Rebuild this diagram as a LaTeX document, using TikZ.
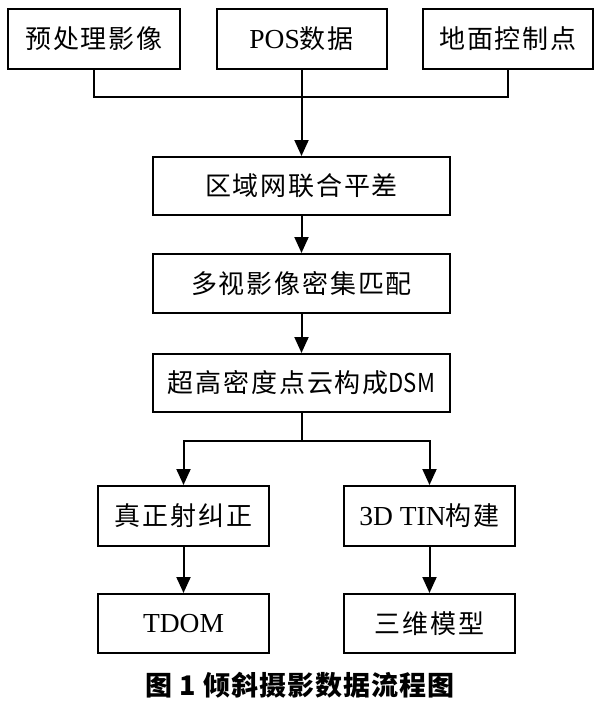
\documentclass[tikz,border=0pt]{standalone}
\usepackage{fontspec}
\setmainfont{Liberation Serif}
\newfontfamily\cjk{Noto Sans CJK SC}[LetterSpace=7]
\newfontfamily\cjkplain{Noto Sans CJK SC}
\newfontfamily\cjkcap{Noto Sans CJK SC}[LetterSpace=4]
\usetikzlibrary{arrows.meta}
\begin{document}
\begin{tikzpicture}[x=1pt,y=-1pt,
  box/.style={draw, line width=2pt, inner sep=0pt, minimum height=60pt, font=\fontsize{26}{29}\selectfont},
  lat/.style={font=\fontsize{27.5}{30}\selectfont},
  link/.style={line width=2pt},
  arr/.style={line width=2pt, -{Triangle[width=14pt,length=16pt]}}]
\useasboundingbox (0,0) rectangle (600,705);
\node[box, minimum width=172pt] (b1) at (94,39) {\cjk 预处理影像};
\node[box, lat, minimum width=170pt] (b2) at (301.5,39) {POS{\cjk\fontsize{26}{29}\selectfont 数据}};
\node[box, minimum width=170pt] (b3) at (508,39) {\cjk 地面控制点};
\node[box, minimum width=297pt, minimum height=58pt] (r1) at (301.5,186) {\cjk 区域网联合平差};
\node[box, minimum width=297pt, minimum height=59pt] (r2) at (301.5,283.5) {\cjk 多视影像密集匹配};
\node[box, minimum width=297pt, minimum height=58pt] (r3) at (301.5,383) {{\cjk 超高密度点云构成}{\cjkplain\addfontfeature{FakeStretch=0.85}DSM}};
\node[box, minimum width=171pt] (t1) at (183.5,516) {\cjk 真正射纠正};
\node[box, lat, minimum width=171pt] (t2) at (429.5,516) {3D TIN{\cjk\fontsize{26}{29}\selectfont 构建}};
\node[box, lat, minimum width=171pt, minimum height=59pt] (d1) at (183.5,623.5) {TDOM};
\node[box, minimum width=171pt, minimum height=59pt] (d2) at (429.5,623.5) {\cjk 三维模型};
\node (cap) at (300,685) {\cjkcap\bfseries\fontsize{27}{30}\selectfont 图 1 倾斜摄影数据流程图};
\coordinate (j1) at (301.5,97);
\coordinate (j2) at (301.5,441);
\draw[link] (b1.south) |- (j1) -| (b3.south);
\draw[arr] (b2.south) -- (r1.north);
\draw[arr] (r1.south) -- (r2.north);
\draw[arr] (r2.south) -- (r3.north);
\draw[link] (r3.south) -- (j2);
\draw[arr] (j2) -| (t1.north);
\draw[arr] (j2) -| (t2.north);
\draw[arr] (t1.south) -- (d1.north);
\draw[arr] (t2.south) -- (d2.north);
\end{tikzpicture}
\end{document}
